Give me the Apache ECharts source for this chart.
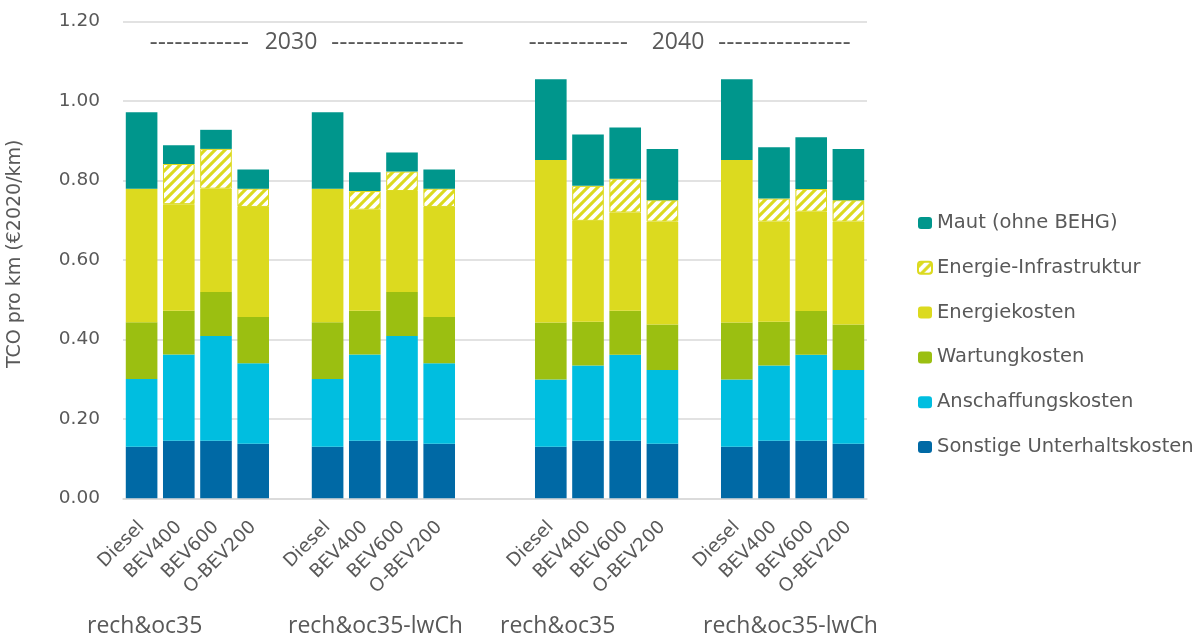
<!DOCTYPE html>
<html>
<head>
<meta charset="utf-8">
<script src="https://cdn.jsdelivr.net/npm/echarts@6/dist/echarts.min.js"></script>
<style>
  html, body { margin: 0; padding: 0; background: #ffffff; }
  #chart { width: 1202px; height: 637px; }
</style>
</head>
<body>
<div id="chart"></div>
<script>
// Vehicle concepts within each scenario block
const models = ['Diesel', 'BEV400', 'BEV600', 'O-BEV200'];
// Scenario blocks, left to right
const scenarios = ['rech&oc35', 'rech&oc35-lwCh', 'rech&oc35', 'rech&oc35-lwCh'];
// Year headers above the blocks
const years = ['2030', '2040'];
// Empty category slots between neighbouring blocks
const blockGaps = [1, 2, 1];
// Y axis ticks
const yTicks = [0, 0.2, 0.4, 0.6, 0.8, 1.0, 1.2];

// Cost components in €2020/km, one value per bar (block by block)
const sonstige    = [0.130, 0.145, 0.145, 0.137,  0.130, 0.145, 0.145, 0.137,  0.130, 0.145, 0.145, 0.137,  0.130, 0.145, 0.145, 0.137];
const anschaffung = [0.170, 0.217, 0.263, 0.203,  0.170, 0.217, 0.263, 0.203,  0.169, 0.189, 0.216, 0.186,  0.169, 0.189, 0.216, 0.186];
const wartung     = [0.143, 0.110, 0.111, 0.116,  0.143, 0.110, 0.111, 0.116,  0.143, 0.110, 0.111, 0.114,  0.143, 0.110, 0.110, 0.114];
const energie     = [0.336, 0.268, 0.260, 0.277,  0.336, 0.254, 0.254, 0.277,  0.409, 0.254, 0.247, 0.259,  0.409, 0.252, 0.250, 0.259];
const infra       = [0.000, 0.101, 0.100, 0.046,  0.000, 0.047, 0.049, 0.046,  0.000, 0.088, 0.085, 0.054,  0.000, 0.058, 0.057, 0.054];
const maut        = [0.192, 0.047, 0.048, 0.048,  0.192, 0.047, 0.048, 0.048,  0.203, 0.129, 0.129, 0.129,  0.203, 0.129, 0.130, 0.129];

const TEXT = '#595959';
const FONT = 'DejaVu Sans';
const TITLE_FONT = 'Open Sans';

// Build the category list with spacer slots and map each series onto it
const categories = [];
const slotOfBar = [];
scenarios.forEach(function (s, b) {
  models.forEach(function (m) {
    slotOfBar.push(categories.length);
    categories.push(m);
  });
  if (b < blockGaps.length) {
    for (let i = 0; i < blockGaps[b]; i++) categories.push('');
  }
});
function spread(values) {
  const out = categories.map(function () { return '-'; });
  values.forEach(function (v, i) { out[slotOfBar[i]] = v === 0 ? '-' : v; });
  return out;
}

// Diagonal hatch used for the charging-infrastructure share
function hatchPattern() {
  const c = document.createElement('canvas');
  const n = 10;
  c.width = n; c.height = n;
  const g = c.getContext('2d');
  g.fillStyle = '#DCDA1F';
  g.fillRect(0, 0, n, n);
  g.strokeStyle = '#ffffff';
  g.lineWidth = 4;
  g.lineCap = 'square';
  [[-n, n, n, -n], [0, n, n, 0], [0, 2 * n, 2 * n, 0]].forEach(function (l) {
    g.beginPath();
    g.moveTo(l[0], l[1]);
    g.lineTo(l[2], l[3]);
    g.stroke();
  });
  return { image: c, repeat: 'repeat' };
}

const seriesDefs = [
  { name: 'Sonstige Unterhaltskosten', data: sonstige,    color: '#0069A5' },
  { name: 'Anschaffungskosten',        data: anschaffung, color: '#00BEE0' },
  { name: 'Wartungkosten',             data: wartung,     color: '#9BBF11' },
  { name: 'Energiekosten',             data: energie,     color: '#DCDA1F' },
  { name: 'Energie-Infrastruktur',     data: infra,       color: hatchPattern(), border: '#DCDA1F' },
  { name: 'Maut (ohne BEHG)',          data: maut,        color: '#00968C' }
];

const chart = echarts.init(document.getElementById('chart'), null, { renderer: 'canvas' });

// "------ 2030 ------" style header over a pair of blocks
function headerTexts(year, cx, leftEnd, rightStart) {
  const y = 42;
  return [
    { type: 'text', x: leftEnd, y: y + 1,
      style: { text: '------------', fill: TEXT, font: '23px "DejaVu Sans"', textAlign: 'right', textVerticalAlign: 'middle' } },
    { type: 'text', x: cx, y: y,
      style: { text: year, fill: TEXT, font: '23px "' + TITLE_FONT + '"', textAlign: 'center', textVerticalAlign: 'middle' } },
    { type: 'text', x: rightStart, y: y + 1,
      style: { text: '----------------', fill: TEXT, font: '23px "DejaVu Sans"', textAlign: 'left', textVerticalAlign: 'middle' } }
  ];
}

const scenarioX = [87, 288, 500, 703];
const graphics = []
  .concat(headerTexts(years[0], 291, 249, 331))
  .concat(headerTexts(years[1], 678, 628, 718))
  .concat(scenarios.map(function (s, i) {
    return { type: 'text', x: scenarioX[i], y: 626,
      style: { text: s, fill: TEXT, font: '23px "' + TITLE_FONT + '"', textAlign: 'left', textVerticalAlign: 'middle' } };
  }));

chart.setOption({
  animation: false,
  backgroundColor: '#ffffff',
  textStyle: { fontFamily: FONT, color: TEXT },
  grid: { left: 123, right: 335, top: 21.3, bottom: 138.7, containLabel: false, outerBoundsMode: 'none' },
  legend: {
    orient: 'vertical',
    left: 912,
    top: 208,
    itemWidth: 14,
    itemHeight: 12,
    itemGap: 24.8,
    selectedMode: false,
    data: ['Maut (ohne BEHG)', 'Energie-Infrastruktur', 'Energiekosten', 'Wartungkosten', 'Anschaffungskosten', 'Sonstige Unterhaltskosten'],
    textStyle: { fontFamily: FONT, fontSize: 19.5, color: TEXT, lineHeight: 20 }
  },
  xAxis: {
    type: 'category',
    data: categories,
    axisTick: { show: false },
    axisLine: { lineStyle: { color: '#D9D9D9', width: 1.5 } },
    axisLabel: { interval: 0, rotate: 45, margin: 26, fontFamily: FONT, fontSize: 18.5, color: TEXT }
  },
  yAxis: {
    type: 'value',
    min: yTicks[0],
    max: yTicks[yTicks.length - 1],
    interval: yTicks[1] - yTicks[0],
    name: 'TCO pro km (€2020/km)',
    nameLocation: 'middle',
    nameGap: 98,
    nameTextStyle: { fontFamily: FONT, fontSize: 19, color: TEXT, padding: [0, 0, 0, 12] },
    axisLine: { show: false },
    axisTick: { show: false },
    axisLabel: { margin: 23, fontFamily: FONT, fontSize: 18.5, color: TEXT, formatter: function (v) { return v.toFixed(2); } },
    splitLine: { lineStyle: { color: '#D9D9D9', width: 1.5 } }
  },
  series: seriesDefs.map(function (d) {
    return {
      name: d.name,
      type: 'bar',
      stack: 'tco',
      barCategoryGap: '15%',
      data: spread(d.data),
      itemStyle: d.border ? { color: d.color, borderColor: d.border, borderWidth: 1 } : { color: d.color },
      emphasis: { disabled: true }
    };
  }),
  graphic: graphics
});
</script>
</body>
</html>
